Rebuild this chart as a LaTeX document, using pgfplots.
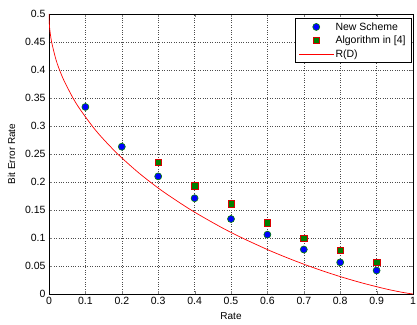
\documentclass[border=0pt]{standalone}
\usepackage{pgfplots}
\pgfplotsset{compat=1.18}
\usepackage{fontspec}
\setmainfont{Liberation Sans}
\begin{document}
\begin{tikzpicture}
\begin{axis}[
  scale only axis,
  width=364pt, height=280pt,
  xmin=0, xmax=1, ymin=0, ymax=0.5,
  xtick={0,0.1,...,1.0}, ytick={0,0.05,...,0.5},
  /pgf/number format/assume math mode=true,
  /pgf/number format/fixed,
  tick label style={font=\fontsize{10.5}{12}\selectfont},
  label style={font=\fontsize{10}{12}\selectfont},
  xlabel={Rate}, ylabel={Bit Error Rate},
  xlabel style={inner sep=0pt, yshift=-4pt},
  ylabel style={yshift=3pt},
  tick align=inside, ticks=both,
  major tick length=3pt,
  xtick pos=both, ytick pos=both,
  axis line style={line width=0.9pt},
  grid=major,
  major grid style={dotted, black!70, line width=0.5pt},
  legend style={at={(1,1)}, anchor=north east, xshift=-1pt, yshift=-4pt, draw=black, line width=0.8pt,
    font=\fontsize{10.5}{12}\selectfont, row sep=0.5pt, inner xsep=4pt, inner ysep=2pt},
  legend cell align=left,
  legend image code/.code={\draw[mark repeat=2,mark phase=2,#1] plot coordinates {(0cm,0cm) (0.6cm,0cm) (1.2cm,0cm)};},
  legend image post style={line width=0.5pt},
]
\addplot[only marks, mark=*, mark size=3.5pt, mark options={fill=blue, draw=green!50!black, line width=0.6pt}]
coordinates {(0.1,0.334) (0.2,0.263) (0.3,0.210) (0.4,0.171) (0.5,0.134) (0.6,0.106) (0.7,0.0795) (0.8,0.0565) (0.9,0.042)};
\addlegendentry{New Scheme}
\addplot[only marks, mark=square*, mark size=3.2pt, mark options={fill=green!50!black, draw=red!85!black, line width=0.6pt}]
coordinates {(0.3,0.235) (0.4,0.193) (0.5,0.161) (0.6,0.127) (0.7,0.099) (0.8,0.078) (0.9,0.057)};
\addlegendentry{Algorithm in [4]}
\addplot[red, line width=0.7pt, smooth]
coordinates {(0,0.5) (0.00029,0.49) (0.00115,0.48) (0.0026,0.47) (0.0072,0.45) (0.0185,0.42) (0.029,0.40) (0.042,0.38) (0.0659,0.35) (0.0851,0.33) (0.1187,0.30) (0.1445,0.28) (0.1887,0.25) (0.2398,0.22) (0.2781,0.20) (0.3199,0.18) (0.3902,0.15) (0.4706,0.12) (0.531,0.10) (0.5978,0.08) (0.6341,0.07) (0.6726,0.06) (0.7136,0.05) (0.7577,0.04) (0.8056,0.03) (0.8586,0.02) (0.9192,0.01) (0.9546,0.005) (0.9792,0.002) (0.9886,0.001) (1,0)};
\addlegendentry{R(D)}
\end{axis}
\pgfresetboundingbox
\path[use as bounding box] ([shift={(-49pt,-30pt)}]current axis.south west) rectangle ([shift={(4pt,14pt)}]current axis.north east);
\end{tikzpicture}
\end{document}
